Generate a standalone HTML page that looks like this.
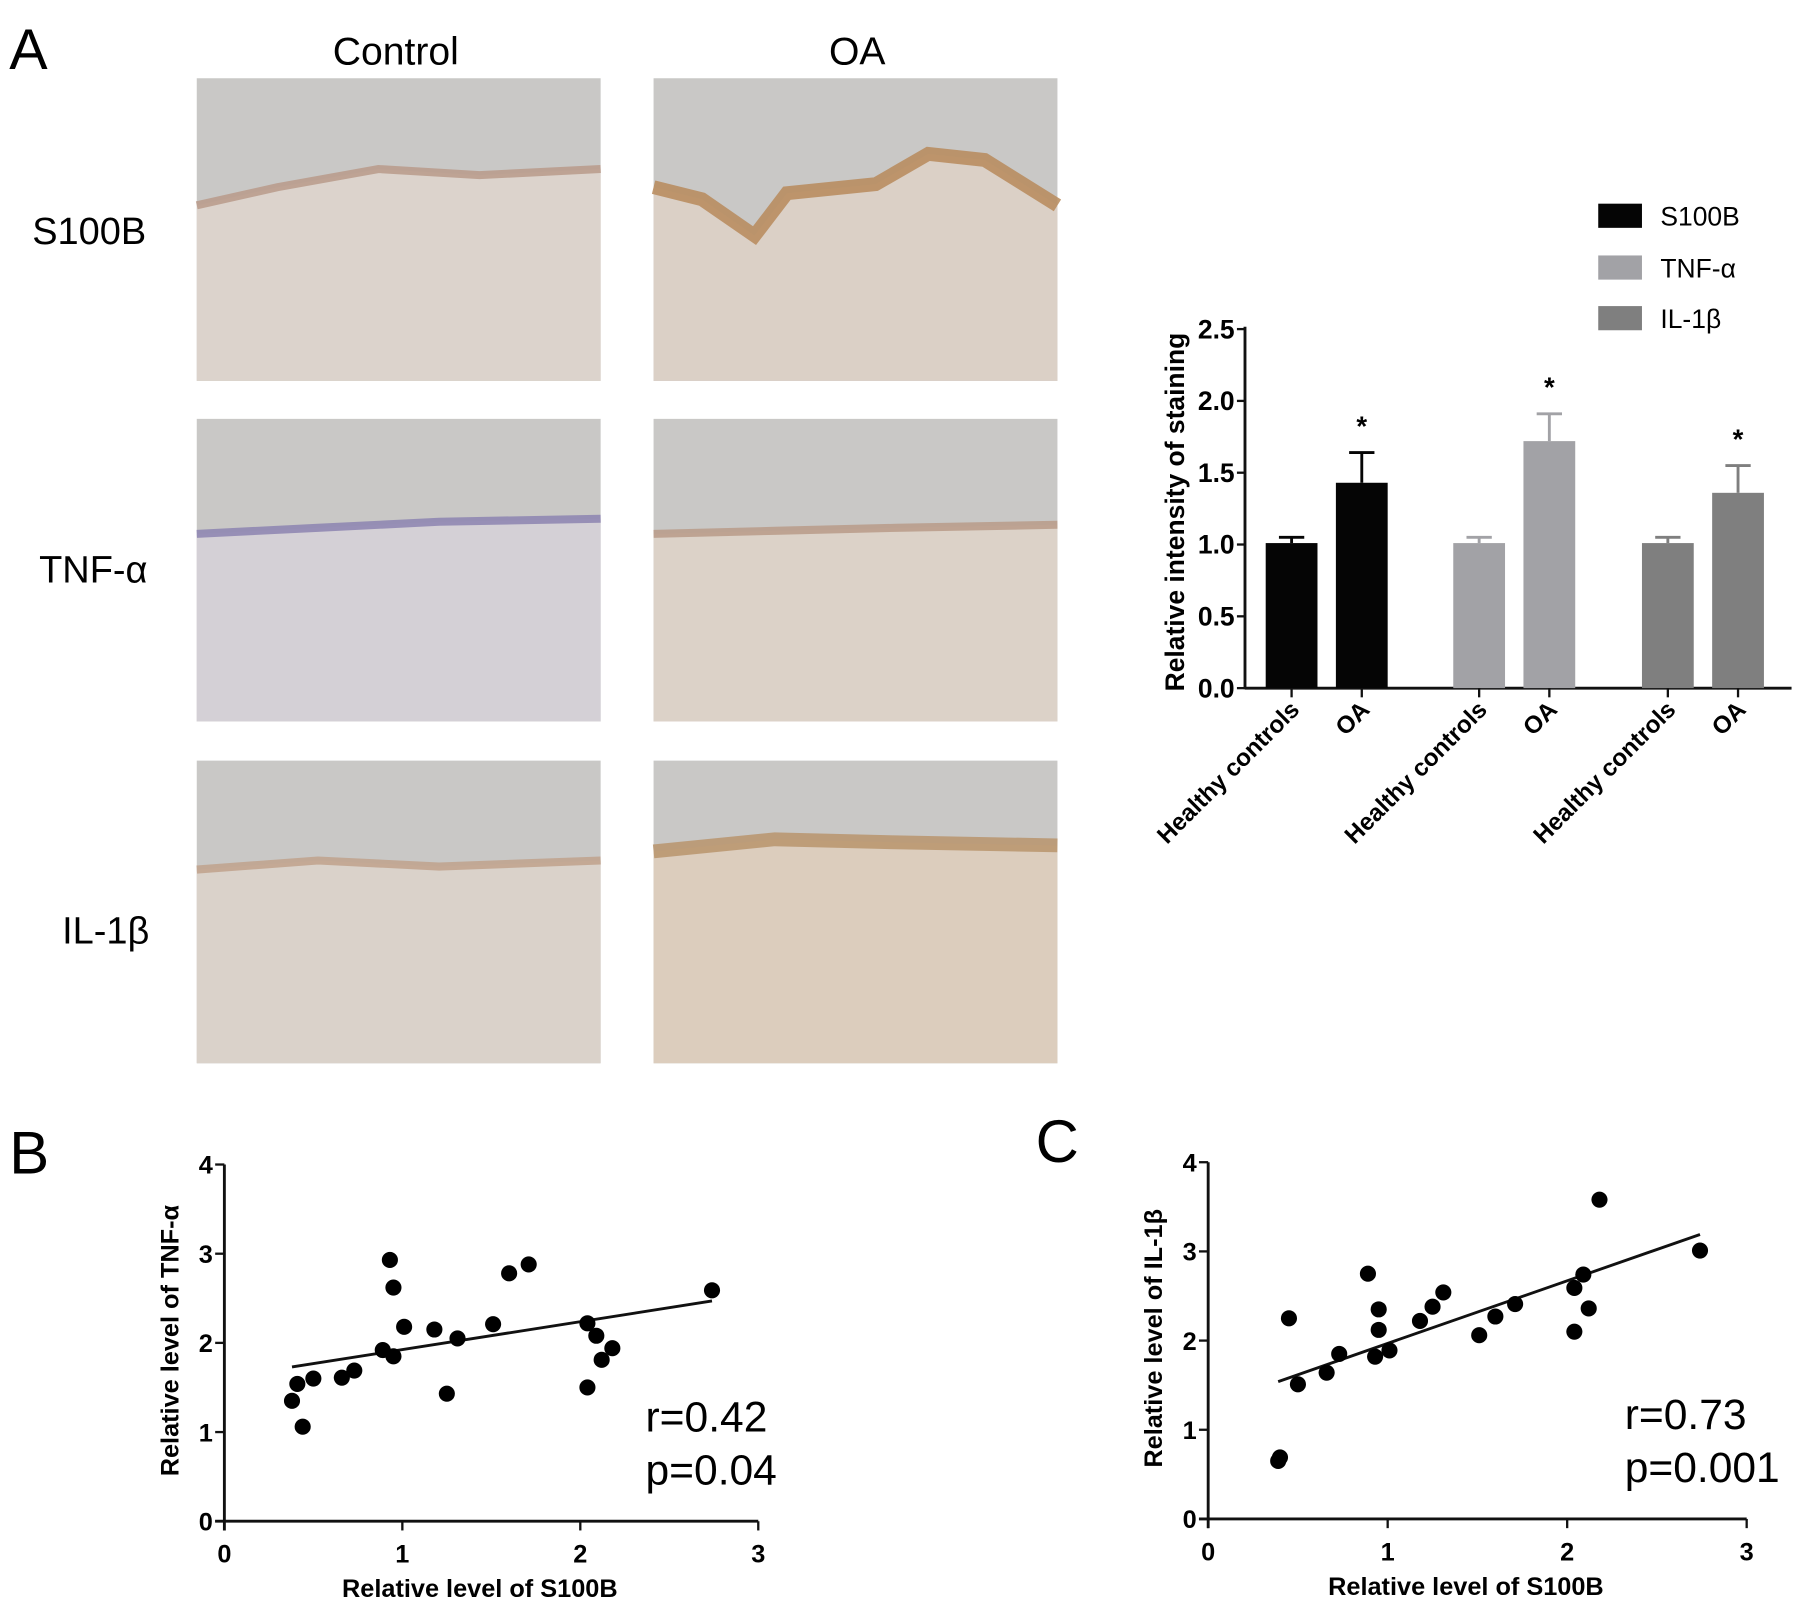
<!DOCTYPE html>
<html><head><meta charset="utf-8"><style>
html,body{margin:0;padding:0;background:#fff;}
svg{display:block;}
text{font-family:"Liberation Sans",sans-serif;}
</style></head><body>
<svg id="fig" width="1795" height="1611" viewBox="0 0 1560 1400" preserveAspectRatio="none">
<rect width="1560" height="1400" fill="#fff"/>
<text x="8" y="60" font-size="50">A</text>
<text x="344" y="56" font-size="34" text-anchor="middle">Control</text>
<text x="745" y="56" font-size="34" text-anchor="middle">OA</text>
<text x="28" y="212" font-size="33">S100B</text>
<text x="34" y="506" font-size="33">TNF-α</text>
<text x="54" y="820" font-size="33">IL-1β</text>
<g id="tiles"></g>
<g id="bar"></g>
<g id="scB"></g>
<g id="scC"></g>
<text x="8" y="1020" font-size="52">B</text>
<text x="900" y="1010" font-size="52">C</text>
</svg>
<script>
const NS="http://www.w3.org/2000/svg";
function mk(p,t,a,txt){const e=document.createElementNS(NS,t);for(const k in a)e.setAttribute(k,a[k]);if(txt!==undefined)e.textContent=txt;p.appendChild(e);return e;}

// ---------- micrograph tiles ----------
const tileCols=[171,568];
const tileRows=[68,364,661];
const tileW=351, tileH=263;
const edges=[
 [[0,0.42],[0.2,0.36],[0.45,0.3],[0.7,0.32],[1,0.3]],
 [[0,0.36],[0.12,0.4],[0.25,0.52],[0.33,0.38],[0.55,0.35],[0.68,0.25],[0.82,0.27],[1,0.42]],
 [[0,0.38],[0.3,0.36],[0.6,0.34],[1,0.33]],
 [[0,0.38],[0.3,0.37],[0.6,0.36],[1,0.35]],
 [[0,0.36],[0.3,0.33],[0.6,0.35],[1,0.33]],
 [[0,0.3],[0.3,0.26],[0.6,0.27],[1,0.28]]
];
const edgeCol=["#b89a8a","#b7895a","#8c84b0","#b89b88","#c0a28c","#b8946c"];
const tissueCol=["#dcd3cc","#dbd0c6","#d4d0d6","#dcd2c8","#dad2ca","#dccdbd"];
const tg=document.getElementById('tiles');
for(let r=0;r<3;r++)for(let c=0;c<2;c++){
 const i=r*2+c,x=tileCols[c],y=tileRows[r];
 const g=mk(tg,'g',{});
 
 
 mk(g,'rect',{x:x,y:y,width:tileW,height:tileH,fill:"#c9c8c6"});
 let d="M"+x+","+(y+tileH);
 edges[i].forEach(p=>{d+=" L"+(x+p[0]*tileW)+","+(y+p[1]*tileH);});
 d+=" L"+(x+tileW)+","+(y+tileH)+"Z";
 mk(g,'path',{d:d,fill:tissueCol[i]});
 let e="M"+(x+edges[i][0][0]*tileW)+","+(y+edges[i][0][1]*tileH);
 edges[i].slice(1).forEach(p=>{e+=" L"+(x+p[0]*tileW)+","+(y+p[1]*tileH);});
 mk(g,'path',{d:e,fill:"none",stroke:edgeCol[i],"stroke-width":c==1&&r!=1?12:7,opacity:0.85});
}

// ---------- bar chart ----------
const barCategories=["Healthy controls","OA","Healthy controls","OA","Healthy controls","OA"];
const barValues=[1.01,1.43,1.01,1.72,1.01,1.36];
const barErrors=[0.04,0.21,0.04,0.19,0.04,0.19];
const barSig=[false,true,false,true,false,true];
const barTicks=["0.0","0.5","1.0","1.5","2.0","2.5"];
const legendLabels=["S100B","TNF-α","IL-1β"];
const barColors=["#050505","#a2a2a6","#7f7f7f"];
const bx0=1082,bx1=1557,by0=598,byTop=286;
const yB=v=>by0-(v/2.5)*(by0-byTop);
const barLeft=[1100,1161,1263,1324,1427,1488],barW=45;
const bg=document.getElementById('bar');
mk(bg,'line',{x1:bx0,y1:byTop-2,x2:bx0,y2:by0+1,stroke:"#111","stroke-width":2.5});
mk(bg,'line',{x1:bx0,y1:by0,x2:bx1,y2:by0,stroke:"#111","stroke-width":2.5});
barTicks.forEach(t=>{const y=yB(+t);
 mk(bg,'line',{x1:bx0-7,y1:y,x2:bx0,y2:y,stroke:"#111","stroke-width":2});
 const tx=mk(bg,'text',{x:bx0-9,y:y+8,"font-size":23,"font-weight":"bold","text-anchor":"end"},t);
 
});
barValues.forEach((v,i)=>{
 const x=barLeft[i],cx=x+barW/2,col=barColors[Math.floor(i/2)];
 const eb=yB(v+barErrors[i]);
 mk(bg,'line',{x1:cx,y1:eb,x2:cx,y2:yB(v),stroke:col,"stroke-width":2.5});
 mk(bg,'line',{x1:cx-11,y1:eb,x2:cx+11,y2:eb,stroke:col,"stroke-width":2.5});
 const r=mk(bg,'rect',{x:x,y:yB(v),width:barW,height:by0-yB(v),fill:col});
 
 
 mk(bg,'line',{x1:cx,y1:by0,x2:cx,y2:by0+8,stroke:"#111","stroke-width":2});
 if(barSig[i]){const s=mk(bg,'text',{x:cx,y:eb-15,"font-size":24,"font-weight":"bold","text-anchor":"middle"},"*");
  }
 const lb=mk(bg,'text',{x:cx+8,y:by0+20,"font-size":21,"font-weight":"bold","text-anchor":"end",transform:"rotate(-45 "+(cx+8)+" "+(by0+20)+")"},barCategories[i]);
 
});
const yl=mk(bg,'text',{x:1029,y:445,"font-size":23,"font-weight":"bold","text-anchor":"middle",transform:"rotate(-90 1029 445)"},"Relative intensity of staining");

legendLabels.forEach((l,i)=>{const y=[177,222,266][i];
 const g=mk(bg,'g',{});
 
 mk(g,'rect',{x:1389,y:y,width:38,height:21,fill:barColors[i]});
 mk(g,'text',{x:1443,y:y+19,"font-size":23},l);
});

// ---------- scatter plots ----------
const bX=[0.38,0.41,0.44,0.50,0.66,0.73,0.89,0.93,0.95,0.95,1.01,1.18,1.25,1.31,1.51,1.60,1.71,2.04,2.04,2.09,2.12,2.18,2.74];
const bY=[1.35,1.54,1.06,1.60,1.61,1.69,1.92,2.93,2.62,1.85,2.18,2.15,1.43,2.05,2.21,2.78,2.88,2.22,1.50,2.08,1.81,1.94,2.59];
const bFit=[[0.38,1.73],[2.74,2.47]];
const cX=[0.39,0.40,0.45,0.50,0.66,0.73,0.89,0.93,0.95,0.95,1.01,1.18,1.25,1.31,1.51,1.60,1.71,2.04,2.04,2.09,2.12,2.18,2.74];
const cY=[0.65,0.69,2.25,1.51,1.64,1.85,2.75,1.82,2.12,2.35,1.89,2.22,2.38,2.54,2.06,2.27,2.41,2.10,2.59,2.74,2.36,3.58,3.01];
const cFit=[[0.39,1.54],[2.74,3.19]];
const scTicksX=["0","1","2","3"];
const scTicksY=["0","1","2","3","4"];

function scatter(id,X,Y,fit,ax,ay0,ax3,ay4,ylab,stat1,stat2,sx){
 const g=document.getElementById(id);
 const fx=v=>ax+v/3*(ax3-ax), fy=v=>ay0-v/4*(ay0-ay4);
 mk(g,'line',{x1:ax,y1:ay4,x2:ax,y2:ay0+8,stroke:"#111","stroke-width":2.5});
 mk(g,'line',{x1:ax-8,y1:ay0,x2:ax3,y2:ay0,stroke:"#111","stroke-width":2.5});
 scTicksX.forEach(t=>{const x=fx(+t);
  mk(g,'line',{x1:x,y1:ay0,x2:x,y2:ay0+8,stroke:"#111","stroke-width":2});
  const e=mk(g,'text',{x:x,y:ay0+36,"font-size":22,"font-weight":"bold","text-anchor":"middle"},t);
  });
 scTicksY.forEach(t=>{const y=fy(+t);
  mk(g,'line',{x1:ax-8,y1:y,x2:ax,y2:y,stroke:"#111","stroke-width":2});
  const e=mk(g,'text',{x:ax-10,y:y+8,"font-size":22,"font-weight":"bold","text-anchor":"end"},t);
  });
 const fl=mk(g,'line',{x1:fx(fit[0][0]),y1:fy(fit[0][1]),x2:fx(fit[1][0]),y2:fy(fit[1][1]),stroke:"#111","stroke-width":2.5});
 
 X.forEach((v,i)=>{const c=mk(g,'circle',{cx:fx(v),cy:fy(Y[i]),r:7,fill:"#000"});
  });
 const xt=mk(g,'text',{x:(ax+ax3)/2-10,y:ay0+66,"font-size":22,"font-weight":"bold","text-anchor":"middle"},"Relative level of S100B");
 
 const yx=ax-40,yy=(ay0+ay4)/2-2;
 const yt=mk(g,'text',{x:yx,y:yy,"font-size":22,"font-weight":"bold","text-anchor":"middle",transform:"rotate(-90 "+yx+" "+yy+")"},ylab);
 
 const s1=mk(g,'text',{x:sx,y:ay0-78,"font-size":37},stat1);
 
 const s2=mk(g,'text',{x:sx,y:ay0-32,"font-size":37},stat2);
 
}
scatter('scB',bX,bY,bFit,195,1322,659,1012,"Relative level of TNF-α","r=0.42","p=0.04",561);
scatter('scC',cX,cY,cFit,1050,1320,1518,1010,"Relative level of IL-1β","r=0.73","p=0.001",1412);
</script>
</body></html>
